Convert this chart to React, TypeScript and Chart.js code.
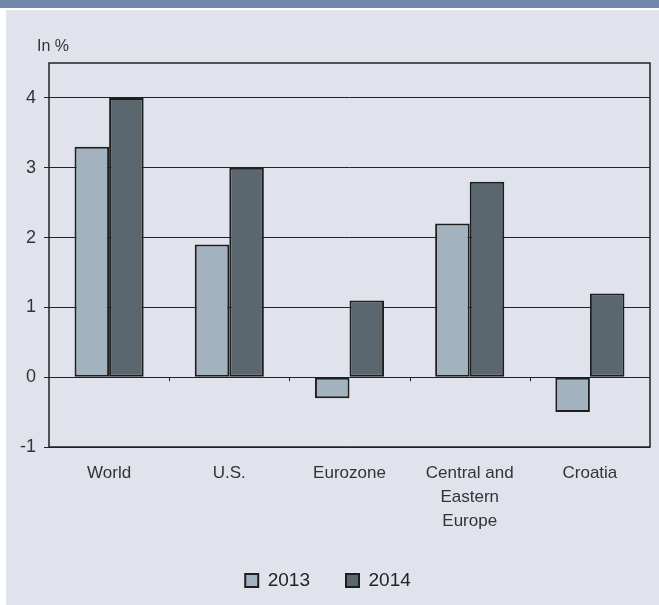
import React, { useEffect, useRef } from "react";
import { Chart, registerables } from "chart.js";

Chart.register(...registerables);

const categories: (string | string[])[] = ["World", "U.S.", "Eurozone", ["Central and", "Eastern", "Europe"], "Croatia"];
const values2013 = [3.3, 1.9, -0.3, 2.2, -0.5];
const values2014 = [4.0, 3.0, 1.1, 2.8, 1.2];
const seriesLabels = ["2013", "2014"];
const yMin = -1;
const yMax = 4.5;
const yUnit = "In %";

const FONT = "'Liberation Sans', Arial, sans-serif";

const framePlugin = {
  id: "frame",
  afterDatasetsDraw(chart: any) {
    const { ctx, chartArea, scales } = chart;
    const xs = scales.x;
    const ys = scales.y;
    ctx.save();
    const y0 = ys.getPixelForValue(0);
    ctx.strokeStyle = "#222";
    ctx.lineWidth = 1;
    for (let i = 1; i < categories.length; i++) {
      const x = Math.round((xs.getPixelForValue(i - 1) + xs.getPixelForValue(i)) / 2) + 0.5;
      ctx.beginPath();
      ctx.moveTo(x, y0);
      ctx.lineTo(x, y0 + 4);
      ctx.stroke();
    }
    ctx.lineWidth = 1.5;
    ctx.strokeStyle = "#222";
    ctx.strokeRect(chartArea.left, chartArea.top, chartArea.right - chartArea.left, chartArea.bottom - chartArea.top);
    ctx.fillStyle = "#333";
    ctx.font = `16px ${FONT}`;
    ctx.textAlign = "left";
    ctx.textBaseline = "middle";
    ctx.fillText(yUnit, 31, 37);
    ctx.restore();
  },
};

export default function App() {
  const ref = useRef<HTMLCanvasElement | null>(null);
  useEffect(() => {
    document.body.style.margin = "0";
    if (!ref.current) return;
    const chart = new Chart(ref.current, {
      type: "bar",
      data: {
        labels: categories,
        datasets: [
          {
            label: seriesLabels[0],
            data: values2013,
            backgroundColor: "#a2b3bf",
            borderColor: "#1e1e1e",
            borderWidth: 2,
            borderSkipped: false,
            categoryPercentage: 0.575,
            barPercentage: 1,
          },
          {
            label: seriesLabels[1],
            data: values2014,
            backgroundColor: "#5b676e",
            borderColor: "#1e1e1e",
            borderWidth: 2,
            borderSkipped: false,
            categoryPercentage: 0.575,
            barPercentage: 1,
          },
        ],
      },
      options: {
        animation: false,
        responsive: false,
        devicePixelRatio: 1,
        layout: { padding: { top: 53, left: 0, right: 9, bottom: 5 } },
        plugins: {
          tooltip: { enabled: false },
          legend: {
            position: "bottom",
            labels: {
              boxWidth: 13,
              boxHeight: 13,
              padding: 36,
              color: "#222",
              font: { family: FONT, size: 19 },
            },
          },
        },
        scales: {
          x: {
            grid: { display: false, drawTicks: false },
            border: { display: false },
            ticks: {
              padding: 14,
              color: "#333",
              maxRotation: 0,
              autoSkip: false,
              font: { family: FONT, size: 17, lineHeight: 1.42 },
            },
            afterFit(scale: any) {
              scale.height = 88;
            },
          },
          y: {
            min: yMin,
            max: yMax,
            grid: { color: "#222", lineWidth: 1, tickLength: 5, drawTicks: true },
            border: { display: false },
            ticks: {
              stepSize: 1,
              includeBounds: false,
              padding: 8,
              color: "#333",
              font: { family: FONT, size: 18 },
            },
            afterFit(scale: any) {
              scale.width = 43;
            },
          },
        },
      },
      plugins: [framePlugin],
    } as any);
    return () => chart.destroy();
  }, []);

  return (
    <div style={{ position: "absolute", left: 0, top: 0, width: 659, height: 605, background: "#ffffff", overflow: "hidden" }}>
      <div style={{ position: "absolute", left: 0, top: 0, width: 659, height: 8, background: "#7089ab" }} />
      <div style={{ position: "absolute", left: 6, top: 10, width: 653, height: 595, background: "#e0e3eb" }}>
        <canvas ref={ref} width={653} height={595} style={{ display: "block", width: 653, height: 595 }} />
      </div>
    </div>
  );
}
